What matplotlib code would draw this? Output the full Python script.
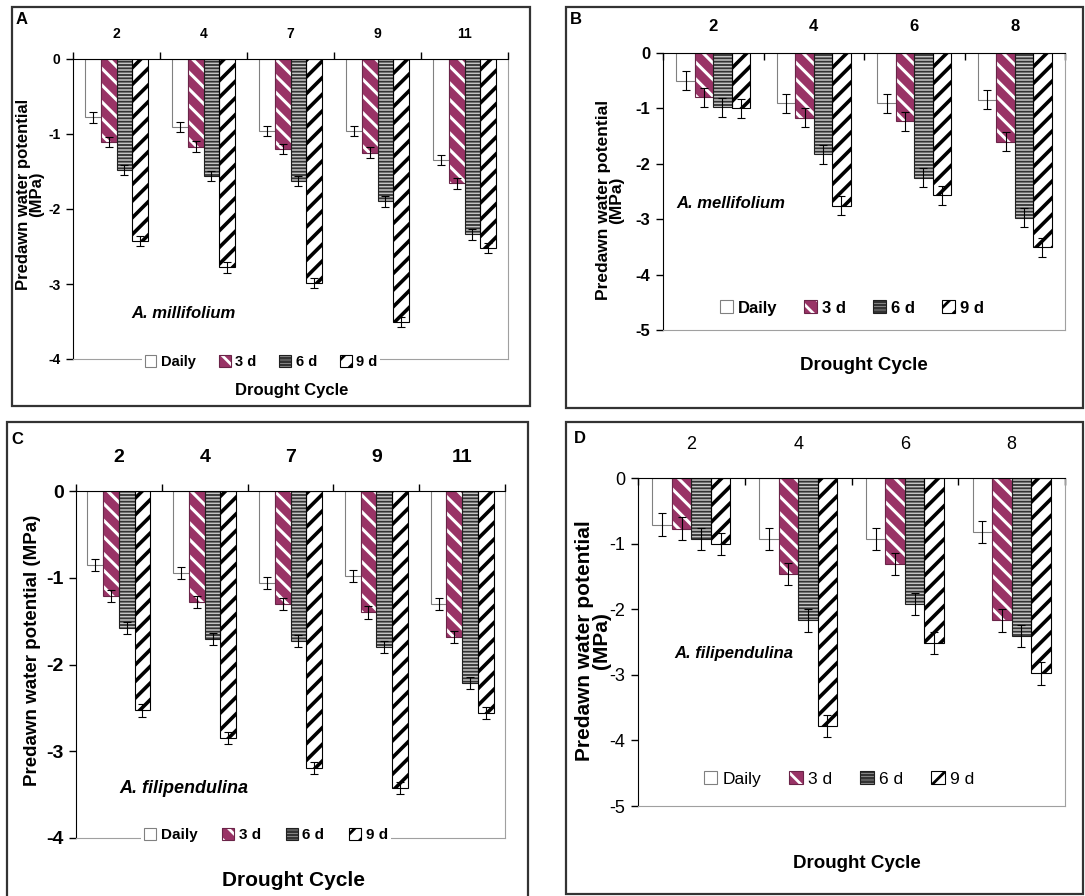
import numpy as np
import matplotlib
matplotlib.use('Agg')
import matplotlib.pyplot as plt
from matplotlib.patches import Rectangle

W, H = 1085, 896
NARROW = ['Liberation Sans Narrow', 'Liberation Sans', 'DejaVu Sans']
WIDE = ['Liberation Sans', 'DejaVu Sans']
plt.rcParams['hatch.linewidth'] = 2.0

series_names = ['Daily', '3 d', '6 d', '9 d']

# Panel A - A. millifolium
cycles_A = ['2', '4', '7', '9', '11']
daily_A = [-0.78, -0.91, -0.96, -0.96, -1.35]
d3_A = [-1.11, -1.17, -1.20, -1.25, -1.66]
d6_A = [-1.48, -1.56, -1.63, -1.90, -2.34]
d9_A = [-2.43, -2.78, -2.99, -3.51, -2.52]
err_A = [0.07, 0.07, 0.07, 0.07, 0.07]

# Panel B - A. mellifolium
cycles_B = ['2', '4', '6', '8']
daily_B = [-0.50, -0.91, -0.91, -0.84]
d3_B = [-0.80, -1.17, -1.23, -1.60]
d6_B = [-0.98, -1.83, -2.25, -2.97]
d9_B = [-1.00, -2.76, -2.57, -3.51]
err_B = [0.17, 0.17, 0.17, 0.17]

# Panel C - A. filipendulina
cycles_C = ['2', '4', '7', '9', '11']
daily_C = [-0.85, -0.95, -1.06, -0.98, -1.30]
d3_C = [-1.21, -1.28, -1.30, -1.40, -1.68]
d6_C = [-1.58, -1.71, -1.73, -1.80, -2.21]
d9_C = [-2.53, -2.85, -3.19, -3.42, -2.56]
err_C = [0.07, 0.07, 0.07, 0.07, 0.07]

# Panel D - A. filipendulina
cycles_D = ['2', '4', '6', '8']
daily_D = [-0.71, -0.93, -0.93, -0.82]
d3_D = [-0.77, -1.46, -1.31, -2.17]
d6_D = [-0.93, -2.17, -1.92, -2.41]
d9_D = [-1.01, -3.78, -2.51, -2.98]
err_D = [0.17, 0.17, 0.17, 0.17]

# face, hatch colour, hatch, hatch lw, outline
styles = [('white', 'white', '', 1.0, '#808080'),
          ('#993366', 'white', '\\\\', 2.2, '#6a2448'),
          ('#c4c4c4', '#333333', '-----', 1.3, '#202020'),
          ('white', 'black', '//', 2.6, 'black')]


def fx(x):
    return x / W


def fy(y):
    return 1 - y / H


def box(x0, y0, x1, y1):
    return [x0 / W, 1 - y1 / H, (x1 - x0) / W, (y1 - y0) / H]


def panel(fig, rect, cats, vals, errs, ymin, tickdir, tsize, tweight, catpad,
          leg_xy, leg_size, leg_weight):
    ax = fig.add_axes(rect)
    n = len(cats)
    x = np.arange(n)
    w = 0.183
    handles = []
    for i, v in enumerate(vals):
        xi = x + (i - 1.5) * w
        face, hc, hatch, hlw, oc = styles[i]
        b = ax.bar(xi, v, w, color=face, edgecolor=hc, hatch=hatch, linewidth=0, zorder=2)
        for p in b.patches:
            if hasattr(p, 'set_hatch_linewidth'):
                p.set_hatch_linewidth(hlw)
        o = ax.bar(xi, v, w, fill=False, edgecolor=oc, linewidth=0.8, zorder=2.1)
        ax.errorbar(xi, v, yerr=errs, fmt='none', ecolor='black', elinewidth=0.8,
                    capsize=3, capthick=0.8, zorder=3)
        handles.append((b.patches[0], o.patches[0]))
    ax.set_xlim(-0.5, n - 0.5)
    ax.set_ylim(ymin, 0)
    ax.xaxis.tick_top()
    ax.set_xticks(x)
    ax.set_xticklabels(cats)
    ax.set_xticks(np.arange(-0.5, n), minor=True)
    ax.tick_params(axis='x', which='major', length=0, pad=catpad, labelsize=tsize)
    ax.tick_params(axis='x', which='minor', length=5, direction=tickdir, width=1,
                   top=True, bottom=False)
    yt = list(range(ymin, 1))
    ax.set_yticks(yt)
    ax.set_yticklabels([str(t) for t in yt])
    ax.tick_params(axis='y', length=5, width=1, pad=4, labelsize=tsize)
    for lab in ax.get_xticklabels() + ax.get_yticklabels():
        lab.set_family(NARROW)
        lab.set_weight(tweight)
    ax.spines['left'].set_color('black')
    ax.spines['top'].set_color('black')
    ax.spines['right'].set_color('#a0a0a0')
    ax.spines['bottom'].set_color('#a0a0a0')
    ax.legend(handles, series_names, ncol=4, loc='center',
              bbox_to_anchor=(fx(leg_xy[0]), fy(leg_xy[1])),
              bbox_transform=fig.transFigure, frameon=True, fancybox=False,
              edgecolor='none', facecolor='white', framealpha=1,
              handlelength=0.8, handleheight=0.8, handletextpad=0.3,
              columnspacing=1.6, borderpad=0.2,
              prop={'family': NARROW, 'size': leg_size, 'weight': leg_weight})
    return ax


fig = plt.figure(figsize=(W / 100, H / 100), dpi=100)

# panel frames
for x0, y0, x1, y1 in [(12, 7, 530, 406), (566, 7, 1083, 408),
                       (7, 422, 528, 905), (566, 422, 1083, 894)]:
    fig.patches.append(Rectangle((fx(x0), fy(y1)), (x1 - x0) / W, (y1 - y0) / H,
                                 transform=fig.transFigure, fill=False,
                                 edgecolor='#333333', linewidth=1.6))

panel(fig, box(73, 59, 508, 359), cycles_A, [daily_A, d3_A, d6_A, d9_A], err_A,
      -4, 'out', 10, 'bold', 13, (261, 362), 10.5, 'bold')
panel(fig, box(663, 53, 1065, 330), cycles_B, [daily_B, d3_B, d6_B, d9_B], err_B,
      -5, 'in', 12, 'bold', 14, (852, 308), 12, 'bold')
panel(fig, box(76, 491, 505, 838), cycles_C, [daily_C, d3_C, d6_C, d9_C], err_C,
      -4, 'out', 14, 'bold', 18, (266, 835), 11, 'bold')
panel(fig, box(638, 478, 1065, 806), cycles_D, [daily_D, d3_D, d6_D, d9_D], err_D,
      -5, 'in', 13, 'normal', 18, (839, 779), 12.5, 'normal')

# y labels
fig.text(fx(30), fy(194), 'Predawn water potential\n(MPa)', rotation=90, ha='center',
         va='center', fontsize=12, fontweight='bold', family=WIDE, linespacing=0.9)
fig.text(fx(610), fy(200), 'Predawn water potential\n(MPa)', rotation=90, ha='center',
         va='center', fontsize=12.5, fontweight='bold', family=WIDE, linespacing=0.9)
fig.text(fx(33), fy(650), 'Predawn water potential (MPa)', rotation=90, ha='center',
         va='center', fontsize=13.5, fontweight='bold', family=WIDE)
fig.text(fx(593), fy(641), 'Predawn water potential\n(MPa)', rotation=90, ha='center',
         va='center', fontsize=15, fontweight='bold', family=WIDE, linespacing=0.9)

# x labels
fig.text(fx(292), fy(390), 'Drought Cycle', ha='center', va='center', fontsize=12,
         fontweight='bold', family=NARROW)
fig.text(fx(864), fy(365), 'Drought Cycle', ha='center', va='center', fontsize=13.5,
         fontweight='bold', family=NARROW)
fig.text(fx(293), fy(880), 'Drought Cycle', ha='center', va='center', fontsize=15,
         fontweight='bold', family=NARROW)
fig.text(fx(857), fy(863), 'Drought Cycle', ha='center', va='center', fontsize=13.5,
         fontweight='bold', family=WIDE)

# species names
fig.text(fx(131), fy(313), 'A. millifolium', ha='left', va='center', fontsize=12,
         fontweight='bold', fontstyle='italic', family=NARROW)
fig.text(fx(676), fy(203), 'A. mellifolium', ha='left', va='center', fontsize=12,
         fontweight='bold', fontstyle='italic', family=NARROW)
fig.text(fx(119), fy(788), 'A. filipendulina', ha='left', va='center', fontsize=13,
         fontweight='bold', fontstyle='italic', family=NARROW)
fig.text(fx(674), fy(653), 'A. filipendulina', ha='left', va='center', fontsize=12,
         fontweight='bold', fontstyle='italic', family=NARROW)

# panel letters
for letter, x, y in [('A', 22, 20), ('B', 576, 20), ('C', 17, 439), ('D', 580, 438)]:
    fig.text(fx(x), fy(y), letter, ha='center', va='center', fontsize=12,
             fontweight='bold', family=NARROW)

fig.savefig('out.png', dpi=100)
